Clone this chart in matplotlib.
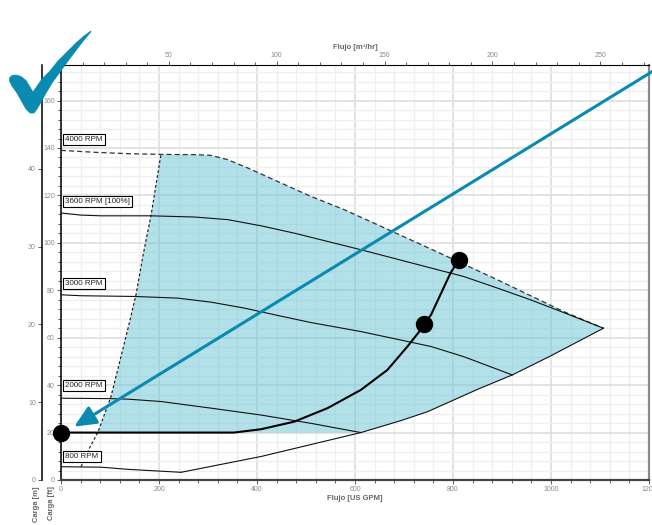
import numpy as np
import matplotlib
matplotlib.use('Agg')
from matplotlib import pyplot as plt
from matplotlib.patches import Polygon
from matplotlib.ticker import MultipleLocator

plt.rcParams['font.family'] = ['Liberation Sans', 'DejaVu Sans']

BLUE = '#0a8ab1'
GPM_PER_M3H = 4.4029
M_PER_FT = 0.3048

# pump curves, flow in US GPM, head in ft
rpm4000_q = [0, 68, 136, 204, 272, 306, 340, 381, 442, 510, 578, 755, 891, 1026, 1107]
rpm4000_h = [139.0, 138.2, 137.6, 137.3, 137.2, 136.9, 135.1, 131.6, 125.9, 119.6, 114.0,
             97.4, 84.4, 71.0, 64.0]

rpm3600_q = [0, 41, 82, 184, 272, 340, 408, 476, 544, 612, 755, 822, 891, 958, 1026, 1107]
rpm3600_h = [112.6, 111.7, 111.4, 111.4, 110.9, 109.8, 107.2, 104.1, 100.6, 97.1, 89.4,
             85.8, 80.9, 76.0, 70.6, 64.0]

rpm3000_q = [0, 41, 150, 238, 306, 374, 442, 510, 612, 755, 822, 921]
rpm3000_h = [78.1, 77.7, 77.4, 76.7, 75.0, 72.5, 69.4, 66.4, 62.6, 56.3, 52.0, 44.3]

rpm2000_q = [0, 102, 136, 204, 306, 408, 510, 612]
rpm2000_h = [34.5, 34.3, 34.1, 33.1, 30.3, 27.4, 23.9, 20.0]

rpm800_q = [0, 82, 136, 245]
rpm800_h = [5.6, 5.4, 4.5, 3.25]

# end of curve line (right / bottom boundary)
eoc_q = [245, 408, 612, 693, 748, 852, 921, 999, 1107]
eoc_h = [3.25, 9.9, 20.0, 25.0, 28.8, 38.4, 44.3, 52.3, 64.0]

# minimum flow line (left boundary)
minflow_q = [41, 58, 75, 102, 136, 153, 167, 184, 204]
minflow_h = [5.6, 13.4, 20.0, 35.2, 63.3, 78.1, 94.3, 111.9, 137.3]

# system curve
sys_q = [0, 353, 408, 476, 544, 612, 666, 707, 734, 741, 755, 795, 812]
sys_h = [20.0, 20.0, 21.4, 24.6, 30.3, 38.0, 46.4, 56.3, 63.3, 65.9, 69.6, 87.3, 92.9]

points_q = [0, 741, 812]
points_h = [20.0, 65.9, 92.9]

# arrow (tail, tip)
arrow_q = [1215, 27]
arrow_h = [173.3, 22.5]

labels = ['4000 RPM', '3600 RPM [100%]', '3000 RPM', '2000 RPM', '800 RPM']
label_h = [143.6, 117.5, 82.9, 39.9, 9.9]

fig = plt.figure(figsize=(6.52, 5.25), dpi=100)
W, H = 652.0, 525.0
ax = fig.add_axes([61 / W, 45 / H, 588 / W, 415 / H])
ax.set_xlim(0, 1200)
ax.set_ylim(0, 175)

# grid
ax.set_axisbelow(True)
ax.xaxis.set_major_locator(MultipleLocator(200))
ax.xaxis.set_minor_locator(MultipleLocator(40))
ax.yaxis.set_major_locator(MultipleLocator(20))
ax.yaxis.set_minor_locator(MultipleLocator(4))
ax.grid(which='major', color='#dedede', lw=1.2)
ax.grid(which='minor', color='#efefef', lw=0.9)

# operating region: min flow line, 4000 rpm curve, end of curve line, closed at 20 ft
reg_q = minflow_q[2:] + rpm4000_q[4:] + eoc_q[::-1][1:7]
reg_h = minflow_h[2:] + rpm4000_h[4:] + eoc_h[::-1][1:7]
ax.fill(reg_q, reg_h, color='#6cc6d7', alpha=0.52, lw=0, zorder=1)

ax.plot(rpm4000_q, rpm4000_h, color='#333333', lw=0.9, dashes=(4, 2.5), zorder=3)
for q, h in [(rpm3600_q, rpm3600_h), (rpm3000_q, rpm3000_h),
             (rpm2000_q, rpm2000_h), (rpm800_q, rpm800_h), (eoc_q, eoc_h)]:
    ax.plot(q, h, color='#111111', lw=0.8, zorder=3)
ax.plot(minflow_q, minflow_h, color='#111111', lw=0.8, dashes=(2.5, 2), zorder=3)

ax.plot(sys_q, sys_h, color='black', lw=1.5, zorder=4, solid_capstyle='butt')
ax.plot(points_q, points_h, 'o', color='black', ms=11.5, zorder=6, clip_on=False)

ax.annotate('', xy=(arrow_q[1], arrow_h[1]), xytext=(arrow_q[0], arrow_h[0]),
            annotation_clip=False, zorder=7,
            arrowprops=dict(arrowstyle='-|>,head_length=1.1,head_width=0.5',
                            color=BLUE, lw=2.2, mutation_scale=12,
                            shrinkA=0, shrinkB=0))

for txt, h in zip(labels, label_h):
    ax.text(9, h, txt, fontsize=5.8, color='#222222', va='center', ha='left', zorder=8,
            bbox=dict(boxstyle='square,pad=0.25', fc='white', ec='black', lw=0.8))

# spines and ticks
ax.spines['left'].set_color('black')
ax.spines['left'].set_linewidth(1.1)
ax.spines['top'].set_color('black')
ax.spines['top'].set_linewidth(0.8)
ax.spines['bottom'].set_color('#444444')
ax.spines['bottom'].set_linewidth(1.6)
ax.spines['right'].set_color('#8a8a8a')
ax.spines['right'].set_linewidth(1.6)

ax.tick_params(which='both', colors='#444444', labelcolor='#8a8a8a', labelsize=5, width=0.6)
ax.tick_params(which='major', length=3, pad=1.5)
ax.tick_params(which='minor', length=2)

top = ax.secondary_xaxis('top', functions=(lambda q: q / GPM_PER_M3H, lambda m: m * GPM_PER_M3H))
top.set_xticks([50, 100, 150, 200, 250])
top.xaxis.set_minor_locator(MultipleLocator(10))
top.tick_params(which='both', colors='#444444', labelcolor='#8a8a8a', labelsize=5, width=0.6)
top.tick_params(which='major', length=3, pad=1.5)
top.tick_params(which='minor', length=2.5)
top.spines['top'].set_visible(False)

mt = ax.secondary_yaxis(-19 / 588, functions=(lambda h: h * M_PER_FT, lambda m: m / M_PER_FT))
mt.set_yticks([0, 10, 20, 30, 40])
mt.tick_params(which='both', colors='#444444', labelcolor='#8a8a8a', labelsize=5, width=0.6)
mt.tick_params(which='major', length=3, pad=1.5)
mt.spines['left'].set_color('black')
mt.spines['left'].set_linewidth(1.1)

fig.text(355 / W, 1 - 498 / H, 'Flujo [US GPM]', ha='center', va='center',
         fontsize=5.5, fontweight='bold', color='#666666')
fig.text(355 / W, 1 - 47.5 / H, 'Flujo [m³/hr]', ha='center', va='center',
         fontsize=5.5, fontweight='bold', color='#666666')
fig.text(36 / W, 1 - 486 / H, 'Carga [m]', rotation=90, ha='center', va='top',
         fontsize=5.5, fontweight='bold', color='#666666')
fig.text(51 / W, 1 - 486 / H, 'Carga [ft]', rotation=90, ha='center', va='top',
         fontsize=5.5, fontweight='bold', color='#666666')

# check mark logo (figure pixels, y from top)
check_px = [(9.5, 78), (12, 75.5), (16, 75), (21, 76.5), (26, 80.5), (33, 92),
            (42, 79), (50, 71), (58, 61), (67, 52), (76, 43), (84, 36), (91, 31),
            (90, 33), (84, 40), (77, 49), (68, 61), (60, 72), (52, 83), (46, 93),
            (41, 102), (37, 109), (34, 113), (30, 113), (26, 109), (22, 102),
            (17, 93), (12, 86), (9.5, 81)]
check = Polygon([(x / W, 1 - y / H) for x, y in check_px], closed=True,
                transform=fig.transFigure, fc=BLUE, ec=BLUE, lw=0.5,
                joinstyle='round', zorder=20)
fig.patches.append(check)

fig.savefig('out.png', dpi=100)
